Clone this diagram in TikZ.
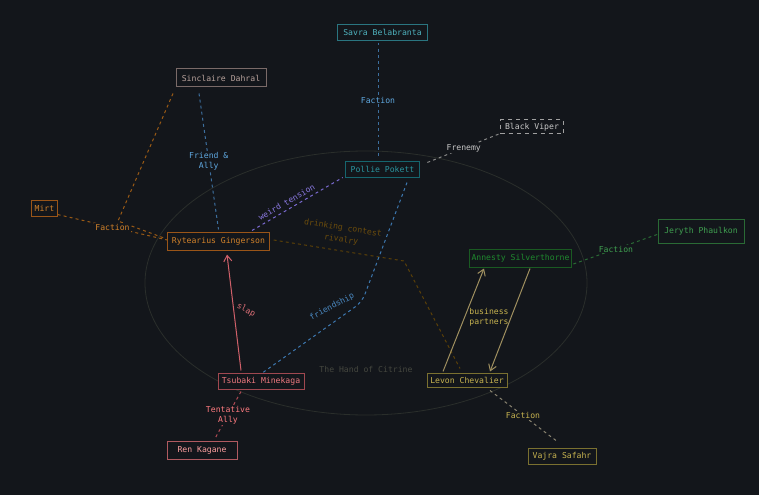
\documentclass[tikz,border=0pt]{standalone}
\usepackage{fontspec}
\setmonofont{DejaVu Sans Mono}
\usetikzlibrary{calc,arrows.meta}

\definecolor{bgc}{HTML}{13161B}
\definecolor{ringc}{HTML}{2A2E2B}
\definecolor{ringtxt}{HTML}{45473F}
\definecolor{tealdraw}{HTML}{2A7580}
\definecolor{tealtxt}{HTML}{4FB3BF}
\definecolor{pdraw}{HTML}{16656E}
\definecolor{ptxt}{HTML}{2A959F}
\definecolor{sindraw}{HTML}{7A6A68}
\definecolor{sintxt}{HTML}{B8A29C}
\definecolor{viperdraw}{HTML}{A0A0A0}
\definecolor{viper}{HTML}{C8C8C8}
\definecolor{orng}{HTML}{9A5518}
\definecolor{orngtxt}{HTML}{D2822A}
\definecolor{orngline}{HTML}{9A5A15}
\definecolor{jgreen}{HTML}{2A6A35}
\definecolor{jgreentxt}{HTML}{3FA050}
\definecolor{agreen}{HTML}{1A5A22}
\definecolor{agreentxt}{HTML}{1F8A2E}
\definecolor{greenline}{HTML}{2A6A35}
\definecolor{tsudraw}{HTML}{A04850}
\definecolor{tsutxt}{HTML}{F07A80}
\definecolor{rendraw}{HTML}{B05A60}
\definecolor{rentxt}{HTML}{FFA0A0}
\definecolor{olive}{HTML}{7A7030}
\definecolor{olivetxt}{HTML}{C8B450}
\definecolor{bizline}{HTML}{A09060}
\definecolor{vajline}{HTML}{8A8470}
\definecolor{blueline}{HTML}{3D6F9E}
\definecolor{bluetxt}{HTML}{5FA8E0}
\definecolor{friendc}{HTML}{3D78B0}
\definecolor{friendtxt}{HTML}{4A88C0}
\definecolor{weird}{HTML}{7A6AD0}
\definecolor{weirdtxt}{HTML}{8A78E0}
\definecolor{drink}{HTML}{5A4008}
\definecolor{drinktxt}{HTML}{6B4C0C}
\definecolor{slapc}{HTML}{D0606A}
\definecolor{slaptxt}{HTML}{E07078}
\definecolor{tentc}{HTML}{B04A55}
\definecolor{tenttxt}{HTML}{FF7B80}
\definecolor{frenc}{HTML}{888888}

\tikzset{
  who/.style={draw, rectangle, inner sep=0pt, line width=0.75pt,
    fill=bgc, font=\ttfamily\fontsize{6.1}{7.3}\selectfont},
  tie/.style={line width=0.75pt, dash pattern=on 2.2pt off 2.4pt},
  bond/.style={line width=0.75pt, -{Straight Barb[length=4.5pt,width=6pt]}},
  says/.style={font=\ttfamily\fontsize{6.1}{7.8}\selectfont, inner sep=1pt,
    align=center},
  gap/.style={fill=bgc}
}

\begin{document}
\begin{tikzpicture}[x=0.75pt,y=-0.75pt]
  \fill[bgc] (0,0) rectangle (759,495);
  \useasboundingbox (0,0) rectangle (759,495);

  % the faction ring
  \draw[ringc, line width=0.6pt] (366,283) ellipse [x radius=221, y radius=132];
  \node[says, text=ringtxt] (hand) at (366,369) {The Hand of Citrine};

  % characters
  \node[who, draw=tealdraw, text=tealtxt, minimum width=66.8pt, minimum height=11.3pt] (savra) at (382.5,32.5) {Savra Belabranta};
  \node[who, draw=sindraw, text=sintxt, minimum width=67.5pt, minimum height=13.5pt] (sinclaire) at (221,78) {Sinclaire Dahral};
  \node[who, draw=viperdraw, text=viper, dashed, minimum width=47pt, minimum height=10.5pt] (viper) at (532,127) {Black Viper};
  \node[who, draw=pdraw, text=ptxt, minimum width=56pt, minimum height=11.3pt] (pollie) at (382.5,169.5) {Pollie Pokett};
  \node[who, draw=orng, text=orngtxt, minimum width=19pt, minimum height=11.3pt] (mirt) at (44.5,208.5) {Mirt};
  \node[who, draw=orng, text=orngtxt, minimum width=76pt, minimum height=12.8pt] (rytearius) at (218.5,241.5) {Rytearius Gingerson};
  \node[who, draw=jgreen, text=jgreentxt, minimum width=64.5pt, minimum height=17.3pt] (jeryth) at (701,231.5) {Jeryth Phaulkon};
  \node[who, draw=agreen, text=agreentxt, minimum width=77pt, minimum height=13.5pt] (annesty) at (520.5,258) {Annesty Silverthorne};
  \node[who, draw=tsudraw, text=tsutxt, minimum width=64.5pt, minimum height=11.3pt] (tsubaki) at (261,381.5) {Tsubaki Minekaga};
  \node[who, draw=olive, text=olivetxt, minimum width=60pt, minimum height=10.5pt] (levon) at (467,380) {Levon Chevalier};
  \node[who, draw=rendraw, text=rentxt, minimum width=52.5pt, minimum height=12.8pt] (ren) at (202,450.5) {Ren Kagane};
  \node[who, draw=olive, text=olivetxt, minimum width=51pt, minimum height=12pt] (vajra) at (562,456) {Vajra Safahr};

  % ties
  \draw[tie, blueline] ($(savra.south)+(-4.5,2)$) -- ($(pollie.north)+(-4.5,-4)$)
    node[says, gap, text=bluetxt, midway] {Faction};
  \draw[tie, blueline] ($(sinclaire.south)+(-22,6)$) -- ($(rytearius.north)+(0,-3)$)
    node[says, gap, text=bluetxt, midway] {Friend \&\\Ally};
  \draw[tie, orngline] ($(sinclaire.south)+(-48,6)$) -- (118,221) -- ($(rytearius.west)+(-2,-3)$);
  \draw[tie, orngline] ($(mirt.south east)+(0,-2)$) -- ($(rytearius.west)+(0,-1.5)$)
    node[says, gap, text=orngtxt, midway] {Faction};
  \draw[tie, frenc] ($(pollie.north east)+(7,1)$) -- ($(viper.south west)+(0,-1)$)
    node[says, gap, text=viper, midway] {Frenemy};
  \draw[tie, weird] ($(rytearius.north)+(33.5,-2)$) -- ($(pollie.south west)+(-2,0)$)
    node[says, text=weirdtxt, pos=0.42, sloped, above=1.5pt] {weird tension};
  \draw[tie, drink] ($(rytearius.east)+(4,-1.5)$) -- (404,261) -- ($(levon.north)+(-7,-4)$);
  \node[says, text=drinktxt, rotate=-9, font=\ttfamily\fontsize{6.1}{8.8}\selectfont] (drinklbl) at (342,234) {drinking contest\\rivalry};
  \draw[tie, friendc, rounded corners=6pt] ($(pollie.south)+(24.5,5)$) -- (362,302) -- ($(tsubaki.north)+(2,-1)$);
  \node[says, text=friendtxt, rotate=28] (friendlbl) at (332,307) {friendship};
  \draw[bond, slapc] ($(tsubaki.north)+(-20,-3)$) -- ($(rytearius.south)+(8.5,4)$);
  \node[says, text=slaptxt, rotate=-28] (slaplbl) at (246,310) {slap};
  \draw[tie, tentc] ($(tsubaki.south)+(-20,2)$) -- ($(ren.north)+(13,-3)$)
    node[says, gap, text=tenttxt, midway] {Tentative\\Ally};
  \draw[bond, bizline] ($(levon.north)+(-24,-1)$) -- ($(annesty.south)+(-36.5,1)$);
  \draw[bond, bizline] ($(annesty.south)+(9.5,1)$) -- ($(levon.north)+(23,-1)$);
  \node[says, text=olivetxt] (bizlbl) at (489,317) {business\\partners};
  \draw[tie, greenline] ($(annesty.east)+(1,6)$) -- ($(jeryth.west)+(1,2.5)$)
    node[says, gap, text=jgreentxt, midway] {Faction};
  \draw[tie, vajline] ($(levon.south)+(23,3)$) -- ($(vajra.north)+(-6,-7)$)
    node[says, gap, text=olivetxt, midway] {Faction};
\end{tikzpicture}
\end{document}
